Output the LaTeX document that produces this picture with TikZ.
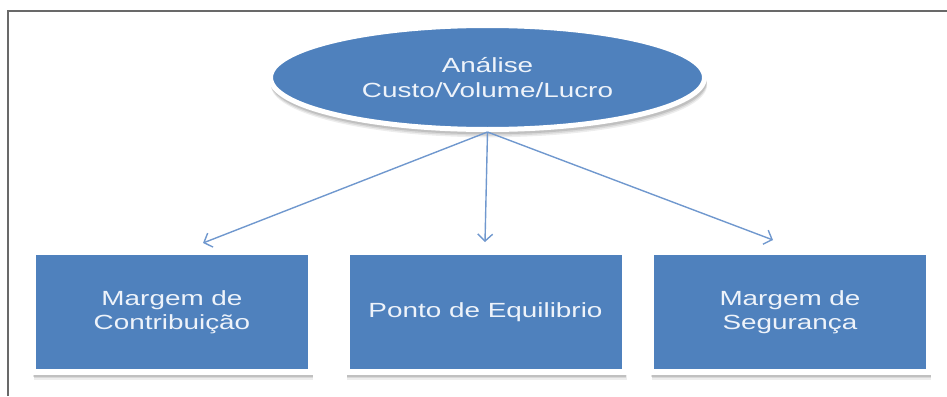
\documentclass[tikz,border=0pt]{standalone}
\usepackage{fontspec}
\newfontfamily\diagfont[FakeStretch=1.36]{Liberation Sans}
\usetikzlibrary{shapes.geometric,arrows.meta,shadows}
\definecolor{boxblue}{RGB}{79,129,189}
\definecolor{arrowblue}{RGB}{112,152,206}
\definecolor{lbl}{RGB}{238,243,250}
\definecolor{framegray}{RGB}{105,105,105}
\begin{document}
\begin{tikzpicture}[x=1pt,y=-1pt,
  softshadow/.style={
    drop shadow={shadow xshift=1.5pt, shadow yshift=-7.5pt, opacity=0.07, fill=black, shadow scale=1.005},
    drop shadow={shadow xshift=1.2pt, shadow yshift=-6pt, opacity=0.09, fill=black, shadow scale=1.005},
    drop shadow={shadow xshift=1pt, shadow yshift=-4.5pt, opacity=0.11, fill=black, shadow scale=1.005}},
  panel/.style={rectangle, fill=boxblue, draw=white, line width=6pt,
    minimum width=278pt, minimum height=120pt, inner sep=0pt, softshadow,
    text=lbl, font=\diagfont\fontsize{20.5}{24.5}\selectfont, align=center},
  oval/.style={ellipse, fill=boxblue, draw=white, line width=5pt,
    minimum width=434pt, minimum height=104pt, inner sep=0pt, softshadow,
    text=lbl, font=\diagfont\fontsize{20.5}{25}\selectfont, align=center},
  link/.style={draw=arrowblue, line width=1.4pt, -{Straight Barb[length=7pt,width=15pt,line width=1.4pt]}},
  frameline/.style={draw=framegray, line width=2pt}]
\useasboundingbox (0,0) rectangle (947,396);
% frame
\coordinate (fbl) at (7.5,396);
\coordinate (ftl) at (7.5,11);
\coordinate (ftr) at (947,11);
\draw[frameline] (fbl) -- (ftl) -- (ftr);
% nodes
\node[oval] (cvl) at (487.5,77.5) {Análise\\Custo/Volume/Lucro};
\node[panel] (mc) at (172,312) {Margem de\\Contribuição};
\node[panel] (pe) at (485.5,312) {Ponto de Equilibrio};
\node[panel] (ms) at (790,312) {Margem de\\Segurança};
% arrow ends
\coordinate (mcin) at (203,243);
\coordinate (pein) at (485,242);
\coordinate (msin) at (773,240);
\draw[link] (cvl.south) -- (mcin);
\draw[link] (cvl.south) -- (pein);
\draw[link] (cvl.south) -- (msin);
\end{tikzpicture}
\end{document}
